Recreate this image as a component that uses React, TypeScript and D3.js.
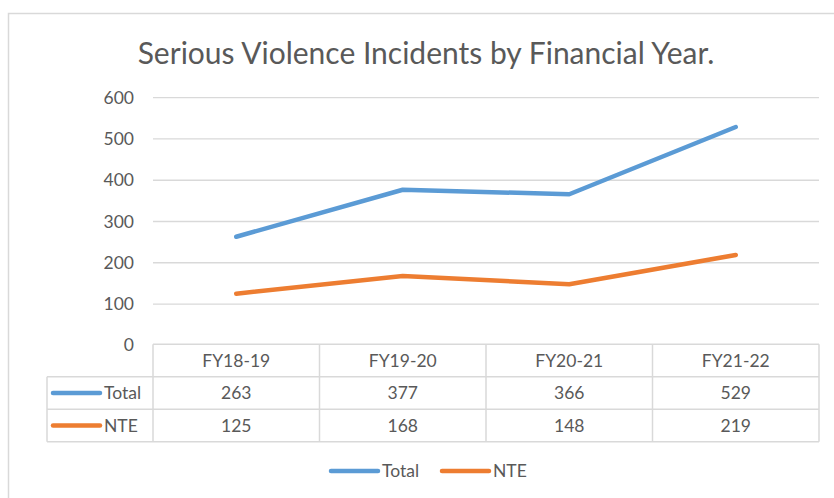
import React from "react";
import * as d3 from "d3";

const categories = ["FY18-19", "FY19-20", "FY20-21", "FY21-22"];
const totalValues = [263, 377, 366, 529];
const nteValues = [125, 168, 148, 219];
const yTicks = [0, 100, 200, 300, 400, 500, 600];

const series = [
  { name: "Total", values: totalValues, color: "#5B9BD5" },
  { name: "NTE", values: nteValues, color: "#ED7D31" },
];

const W = 834;
const H = 498;
const FONT = "Lato, 'Open Sans', sans-serif";
const TEXT = "#595959";
const GRID = "#D9D9D9";
const FS = 17.5;

const App = () => {
  const x = d3.scaleBand().domain(categories).range([153, 819]).padding(0);
  const y = d3.scaleLinear().domain([0, 600]).range([345.3, 97.7]);
  const cx = (c: string) => (x(c) as number) + x.bandwidth() / 2;

  const line = d3
    .line<number>()
    .x((d, i) => cx(categories[i]))
    .y((d) => y(d));

  // data table geometry
  const rowTop = y(0) - 1;
  const rowH = 32.5;
  const rows = [rowTop, rowTop + rowH, rowTop + rowH * 2, rowTop + rowH * 3];
  const labelLeft = 47;
  const colEdges = categories.map((c) => x(c) as number).concat([819]);

  return (
    <svg
      width={W}
      height={H}
      style={{ position: "absolute", left: 0, top: 0, background: "#fff" }}
      fontFamily={FONT}
    >
      <rect x={8.5} y={13.5} width={W} height={H} fill="#fff" stroke={GRID} strokeWidth={1.5} />

      <text x={426} y={64} textAnchor="middle" fontSize={30} fill={TEXT}>
        Serious Violence Incidents by Financial Year.
      </text>

      {/* gridlines and y labels */}
      {yTicks.map((t) => (
        <g key={t}>
          {t > 0 && (
            <line x1={153} x2={819} y1={y(t)} y2={y(t)} stroke={GRID} strokeWidth={1.3} />
          )}
          <text x={134} y={y(t)} dy="0.35em" textAnchor="end" fontSize={FS} fill={TEXT}>
            {t}
          </text>
        </g>
      ))}

      {/* data table */}
      <g stroke={GRID} strokeWidth={1.5} fill="none">
        <line x1={153} x2={819} y1={rows[0]} y2={rows[0]} />
        {rows.slice(1).map((r) => (
          <line key={r} x1={labelLeft} x2={819} y1={r} y2={r} />
        ))}
        {colEdges.map((e) => (
          <line key={e} x1={e} x2={e} y1={rows[0]} y2={rows[3]} />
        ))}
        <line x1={labelLeft} x2={labelLeft} y1={rows[1]} y2={rows[3]} />
      </g>
      {categories.map((c) => (
        <text key={c} x={cx(c)} y={rows[0] + rowH / 2} dy="0.35em" textAnchor="middle" fontSize={FS} fill={TEXT}>
          {c}
        </text>
      ))}
      {series.map((s, si) => {
        const ry = rows[si + 1] + rowH / 2;
        return (
          <g key={s.name}>
            <line x1={53} x2={100} y1={ry} y2={ry} stroke={s.color} strokeWidth={4.5} strokeLinecap="round" />
            <text x={104} y={ry} dy="0.35em" fontSize={FS} fill={TEXT}>
              {s.name}
            </text>
            {s.values.map((v, i) => (
              <text key={i} x={cx(categories[i])} y={ry} dy="0.35em" textAnchor="middle" fontSize={FS} fill={TEXT}>
                {v}
              </text>
            ))}
          </g>
        );
      })}

      {/* series lines */}
      {series.map((s) => (
        <path
          key={s.name}
          d={line(s.values) as string}
          fill="none"
          stroke={s.color}
          strokeWidth={4.5}
          strokeLinecap="round"
          strokeLinejoin="round"
        />
      ))}

      {/* legend */}
      {series.map((s, i) => {
        const lx = i === 0 ? 331 : 442;
        return (
          <g key={s.name}>
            <line x1={lx} x2={lx + 47} y1={471} y2={471} stroke={s.color} strokeWidth={4.5} strokeLinecap="round" />
            <text x={lx + 51} y={471} dy="0.35em" fontSize={FS} fill={TEXT}>
              {s.name}
            </text>
          </g>
        );
      })}
    </svg>
  );
};

export default App;
